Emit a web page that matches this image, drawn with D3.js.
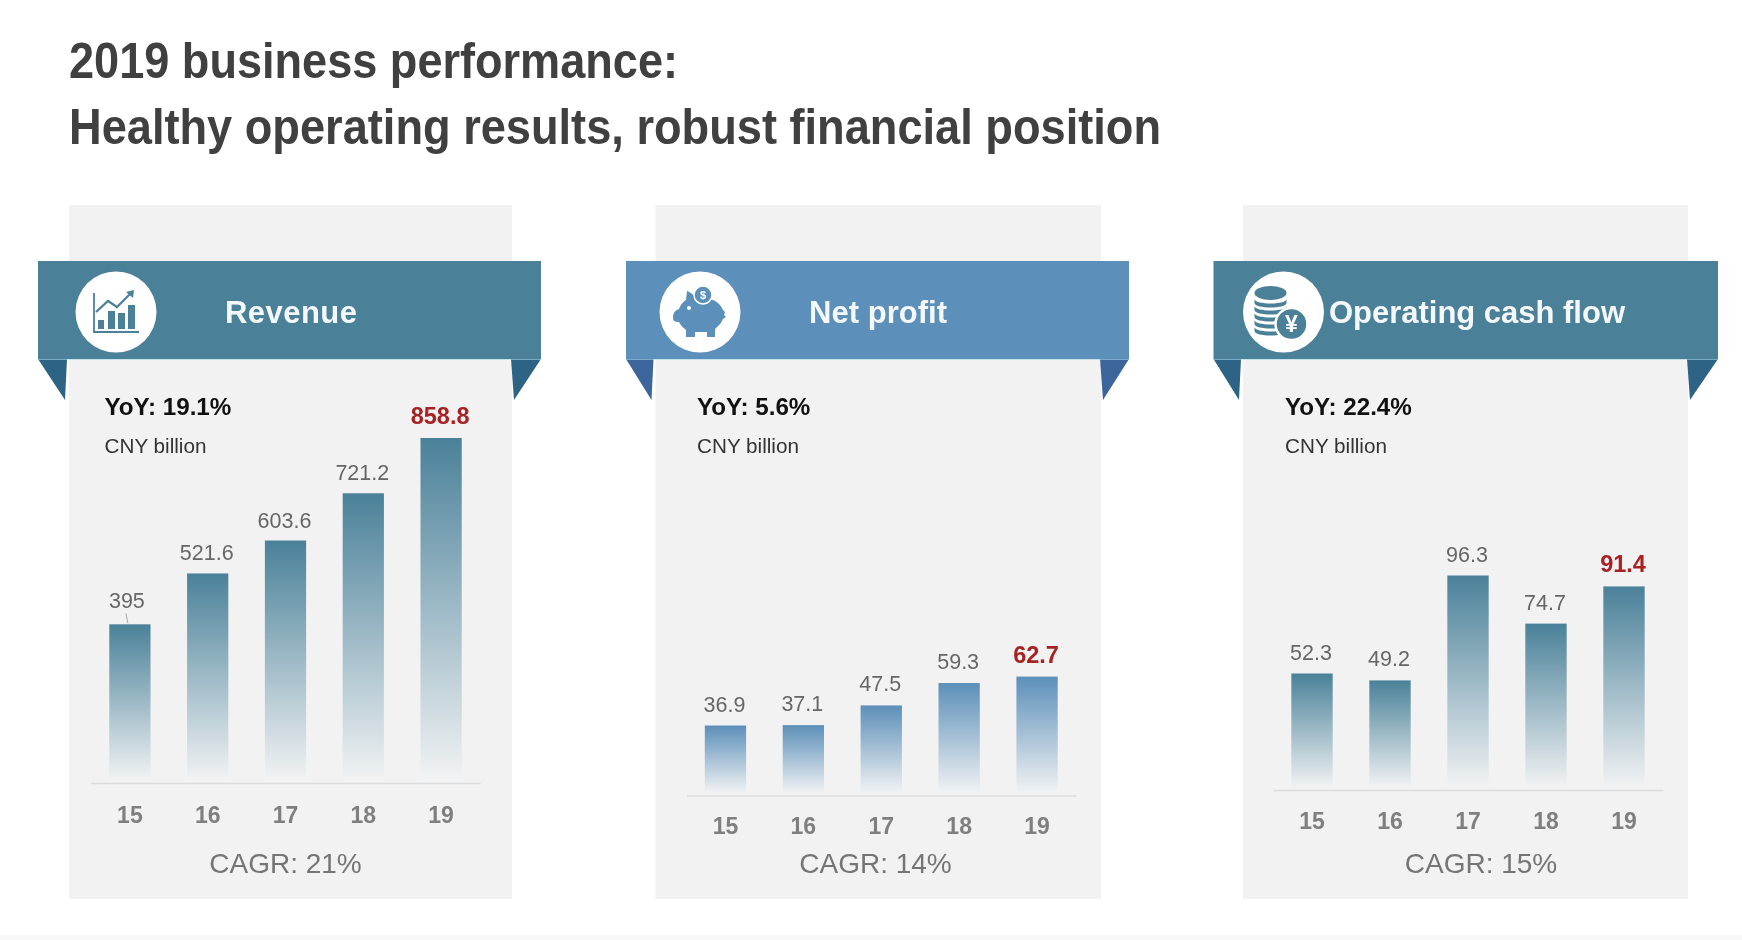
<!DOCTYPE html>
<html><head><meta charset="utf-8">
<script src="https://cdnjs.cloudflare.com/ajax/libs/d3/7.8.5/d3.min.js"></script>
<style>html,body{margin:0;padding:0;background:#fff;overflow:hidden}svg{display:block;font-family:"Liberation Sans",Arial,sans-serif;filter:blur(.55px)}</style>
</head><body><svg id="c" width="1742" height="940"></svg>
<script>
const categories = ["15","16","17","18","19"];
const revenueValues = [395,521.6,603.6,721.2,858.8];
const netProfitValues = [36.9,37.1,47.5,59.3,62.7];
const cashFlowValues = [52.3,49.2,96.3,74.7,91.4];
const valueLabels = [["395","521.6","603.6","721.2","858.8"],["36.9","37.1","47.5","59.3","62.7"],["52.3","49.2","96.3","74.7","91.4"]];
const panelTitles = ["Revenue","Net profit","Operating cash flow"];
const yoyLabels = ["YoY: 19.1%","YoY: 5.6%","YoY: 22.4%"];
const cagrLabels = ["CAGR: 21%","CAGR: 14%","CAGR: 15%"];
const unitLabel = "CNY billion";
const titleLines = ["2019 business performance:","Healthy operating results, robust financial position"];

const seriesList = [revenueValues, netProfitValues, cashFlowValues];
const layouts = [
 {px0:69,px1:512,rx0:38,rx1:541,cx:116,tx:291,tw:132,axis:783,top:438,topVal:858.8,ax0:91,ax1:480,textX:104.5,cagrX:285.5,tickPad:24,valGap:13,color:"#4a8199",fold:"#2d6485",icon:"chart"},
 {px0:655.5,px1:1101,rx0:626,rx1:1129,cx:700,tx:878,tw:138,axis:795.5,top:676.6,topVal:62.7,ax0:686.5,ax1:1076,textX:697,cagrX:875.5,tickPad:22,valGap:14,color:"#5c8fb9",fold:"#3c659c",icon:"pig"},
 {px0:1243,px1:1688,rx0:1213.5,rx1:1718,cx:1283.5,tx:1477,tw:296,axis:790,top:575.5,topVal:96.3,ax0:1273,ax1:1663,textX:1285,cagrX:1481,tickPad:23,valGap:14,color:"#4a8199",fold:"#2d6485",icon:"coins"}
];

const svg = d3.select("#c");
const defs = svg.append("defs");
svg.append("rect").attr("x",0).attr("y",935).attr("width",1742).attr("height",5).attr("fill","#f8f8f8");

svg.selectAll("text.title").data(titleLines).join("text").attr("class","title")
  .attr("x",69).attr("y",(d,i)=>78+i*65.5)
  .attr("font-size",49.5).attr("font-weight",700).attr("fill","#404040")
  .attr("textLength",(d,i)=>i?1092:609).attr("lengthAdjust","spacingAndGlyphs").text(d=>d);

function drawIcon(g,L){
  const c=L.color, cx=L.cx, cy=312;
  const ic=g.append("g").attr("transform",`translate(${cx},${cy})`);
  if(L.icon==="chart"){
    ic.append("path").attr("d","M-22,-19V20H23").attr("fill","none").attr("stroke",c).attr("stroke-width",1.8);
    [[-18,8,6],[-8,-1,7],[2,1,7],[12,-7,7]].forEach(b=>ic.append("rect").attr("x",b[0]).attr("y",b[1]).attr("width",b[2]).attr("height",17-b[1]).attr("fill",c));
    ic.append("path").attr("d","M-20,0L-8,-11L1,-5L15,-19").attr("fill","none").attr("stroke",c).attr("stroke-width",2.2);
    ic.append("path").attr("d","M10,-20L18,-22L17,-14Z").attr("fill",c);
  } else if(L.icon==="pig"){
    ic.append("path").attr("d","M-27,6C-27,0,-24,-2,-21,-3C-19,-8,-17,-10,-14,-12L-13,-21C-8,-19,-5,-15,-2,-14C10,-15,19,-11,23,-2L25,0L24,3L26,5L23,7C21,12,17,15,15,17V25H7V20H-5V25H-14V18C-18,15,-20,12,-21,10C-25,10,-27,9,-27,6Z").attr("fill",c);
    ic.append("circle").attr("cx",-11).attr("cy",-4).attr("r",2).attr("fill","#fff");
    ic.append("circle").attr("cx",3).attr("cy",-17).attr("r",9).attr("fill",c).attr("stroke","#fff").attr("stroke-width",1.5);
    ic.append("text").attr("x",3).attr("y",-13).attr("text-anchor","middle").attr("font-size",11).attr("font-weight",700).attr("fill","#fff").text("$");
  } else {
    [16,9,2,-5,-12].forEach(y=>{
      ic.append("path").attr("d",`M-29,${y-1}V${y+3}C-29,${y+9},3,${y+9},3,${y+3}V${y-1}C3,${y+5},-29,${y+5},-29,${y-1}Z`).attr("fill",c);
    });
    ic.append("ellipse").attr("cx",-13).attr("cy",-19).attr("rx",16).attr("ry",7).attr("fill",c);
    ic.append("circle").attr("cx",8).attr("cy",12).attr("r",16).attr("fill",c).attr("stroke","#fff").attr("stroke-width",2.5);
    ic.append("text").attr("x",8).attr("y",20).attr("text-anchor","middle").attr("font-size",23).attr("font-weight",700).attr("fill","#fff").text("¥");
  }
}

layouts.forEach((L,pi)=>{
  const g=svg.append("g");
  const values=seriesList[pi];
  const id="grad"+pi;
  const grad=defs.append("linearGradient").attr("id",id).attr("x1",0).attr("y1",0).attr("x2",0).attr("y2",1);
  grad.append("stop").attr("offset",0).attr("stop-color",L.color);
  grad.append("stop").attr("offset",1).attr("stop-color","#f2f3f4");

  g.append("rect").attr("x",L.px0).attr("y",205).attr("width",L.px1-L.px0).attr("height",694).attr("fill","#f2f2f2");

  g.append("path").attr("d",`M${L.rx0},359H${L.px0-2}L${L.px0-4},400Z`).attr("fill",L.fold);
  g.append("path").attr("d",`M${L.rx1},359H${L.px1-1}L${L.px1+2},400Z`).attr("fill",L.fold);
  g.append("rect").attr("x",L.rx0).attr("y",261).attr("width",L.rx1-L.rx0).attr("height",98).attr("fill",L.color);
  g.append("line").attr("x1",L.rx0).attr("x2",L.rx1).attr("y1",359.5).attr("y2",359.5).attr("stroke","#a8d8ea").attr("stroke-opacity",.6);
  g.append("circle").attr("cx",L.cx).attr("cy",312).attr("r",40.5).attr("fill","#fff");
  drawIcon(g,L);
  g.append("text").attr("x",L.tx).attr("y",323).attr("text-anchor","middle").attr("font-size",31).attr("font-weight",700).attr("fill","#f4f8fa")
    .attr("textLength",L.tw).attr("lengthAdjust","spacing").text(panelTitles[pi]);

  g.append("text").attr("x",L.textX).attr("y",414.5).attr("font-size",24.2).attr("font-weight",700).attr("fill","#111").text(yoyLabels[pi]);
  g.append("text").attr("x",L.textX).attr("y",453).attr("font-size",20.7).attr("fill","#333").text(unitLabel);

  const x=d3.scaleBand().domain(categories).range([L.ax0,L.ax1]).paddingInner(.47).paddingOuter(.235);
  const y=d3.scaleLinear().domain([0,L.topVal]).range([L.axis,L.top]);

  g.selectAll("rect.bar").data(values).join("rect").attr("class","bar")
    .attr("x",(d,i)=>x(categories[i])).attr("y",d=>y(d))
    .attr("width",x.bandwidth()).attr("height",d=>L.axis-y(d)-2).attr("fill",`url(#${id})`);

  const axis=g.append("g").attr("transform",`translate(0,${L.axis})`)
    .call(d3.axisBottom(x).tickSize(0).tickPadding(L.tickPad));
  axis.select(".domain").attr("stroke","#dcdcdc").attr("stroke-width",1.5);
  axis.selectAll("text").attr("font-family","inherit").attr("font-size",23).attr("font-weight",700).attr("fill","#7f7f7f");

  g.selectAll("text.val").data(values).join("text").attr("class","val")
    .attr("x",(d,i)=>x(categories[i])+x.bandwidth()/2-(pi===0&&i===0?3:1)).attr("y",(d,i)=>y(d)-(i===4?14:(pi===0&&i===0?16:L.valGap)))
    .attr("text-anchor","middle")
    .attr("font-size",(d,i)=>i===4?23.5:21.5).attr("font-weight",(d,i)=>i===4?700:400)
    .attr("fill",(d,i)=>i===4?"#a82224":"#666").text((d,i)=>valueLabels[pi][i]);

  if(pi===0){
    const cx=x(categories[0])+x.bandwidth()/2-2;
    g.append("line").attr("x1",cx-2).attr("x2",cx).attr("y1",y(values[0])-11).attr("y2",y(values[0])-1).attr("stroke","#aaa");
  }

  g.append("text").attr("x",L.cagrX).attr("y",873).attr("text-anchor","middle").attr("font-size",28).attr("fill","#757575").text(cagrLabels[pi]);
});
</script></body></html>
